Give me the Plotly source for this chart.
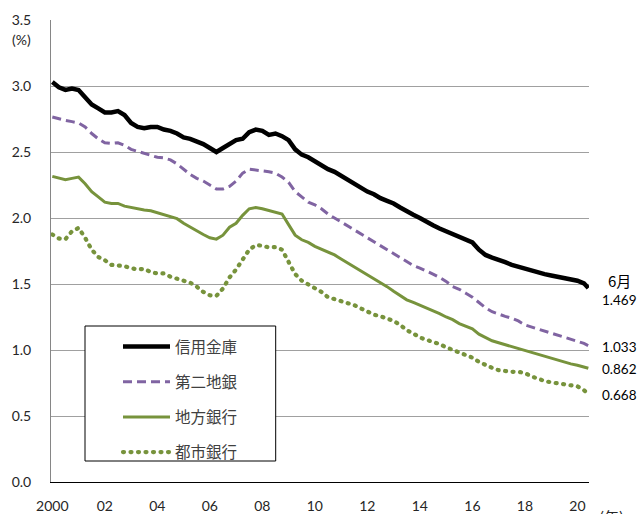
import plotly.graph_objects as go

# Month index from Jan 2000 (quarterly readings + final June 2020 point)
MONTHS = list(range(0, 244, 3)) + [245]

SHINKIN = [3.03, 2.99, 2.97, 2.98, 2.97, 2.92, 2.86, 2.83, 2.80, 2.80, 2.81, 2.78,
           2.72, 2.69, 2.68, 2.69, 2.69, 2.67, 2.66, 2.64, 2.61, 2.60, 2.58, 2.56,
           2.53, 2.50, 2.53, 2.56, 2.59, 2.60, 2.65, 2.67, 2.66, 2.63, 2.64, 2.62,
           2.59, 2.52, 2.48, 2.46, 2.43, 2.40, 2.37, 2.35, 2.32, 2.29, 2.26, 2.23,
           2.20, 2.18, 2.15, 2.13, 2.11, 2.08, 2.05, 2.025, 2.00, 1.97, 1.945, 1.92,
           1.90, 1.88, 1.86, 1.835, 1.815, 1.76, 1.72, 1.70, 1.685, 1.665, 1.645, 1.63,
           1.615, 1.60, 1.59, 1.575, 1.565, 1.555, 1.545, 1.535, 1.525, 1.505,
           1.469]

DAINI = [2.765, 2.75, 2.74, 2.73, 2.72, 2.69, 2.64, 2.60, 2.57, 2.565, 2.57, 2.55,
         2.52, 2.505, 2.49, 2.47, 2.46, 2.455, 2.44, 2.41, 2.37, 2.33, 2.30, 2.28,
         2.25, 2.22, 2.22, 2.24, 2.28, 2.34, 2.37, 2.365, 2.36, 2.35, 2.34, 2.31,
         2.27, 2.20, 2.16, 2.12, 2.10, 2.07, 2.03, 2.00, 1.97, 1.94, 1.91, 1.88,
         1.85, 1.82, 1.79, 1.76, 1.73, 1.70, 1.67, 1.64, 1.62, 1.60, 1.575, 1.55,
         1.52, 1.48, 1.46, 1.43, 1.40, 1.36, 1.32, 1.29, 1.27, 1.255, 1.24, 1.22,
         1.19, 1.175, 1.155, 1.14, 1.125, 1.11, 1.10, 1.085, 1.07, 1.05,
         1.033]

CHIHO = [2.315, 2.30, 2.29, 2.30, 2.31, 2.26, 2.20, 2.16, 2.12, 2.11, 2.11, 2.09,
         2.08, 2.065, 2.06, 2.055, 2.04, 2.02, 2.005, 1.995, 1.96, 1.93, 1.90, 1.875,
         1.85, 1.84, 1.87, 1.93, 1.96, 2.02, 2.07, 2.08, 2.07, 2.055, 2.045, 2.03,
         1.95, 1.87, 1.835, 1.815, 1.785, 1.765, 1.74, 1.72, 1.69, 1.66, 1.63, 1.60,
         1.57, 1.545, 1.515, 1.48, 1.445, 1.41, 1.38, 1.36, 1.34, 1.32, 1.30, 1.275,
         1.25, 1.23, 1.20, 1.18, 1.16, 1.12, 1.095, 1.07, 1.055, 1.04, 1.025, 1.01,
         0.995, 0.98, 0.965, 0.95, 0.935, 0.92, 0.905, 0.895, 0.885, 0.87,
         0.862]

TOSHI = [1.875, 1.845, 1.84, 1.90, 1.925, 1.85, 1.76, 1.705, 1.68, 1.645, 1.64, 1.635,
         1.62, 1.61, 1.615, 1.59, 1.58, 1.58, 1.555, 1.54, 1.525, 1.51, 1.48, 1.44,
         1.415, 1.41, 1.466, 1.55, 1.61, 1.69, 1.76, 1.795, 1.79, 1.777, 1.78, 1.76,
         1.66, 1.575, 1.525, 1.495, 1.465, 1.44, 1.40, 1.385, 1.37, 1.355, 1.34, 1.315,
         1.288, 1.268, 1.255, 1.24, 1.22, 1.19, 1.15, 1.125, 1.095, 1.077, 1.065, 1.045,
         1.02, 1.00, 0.978, 0.963, 0.942, 0.91, 0.885, 0.865, 0.847, 0.838, 0.835, 0.835,
         0.825, 0.80, 0.78, 0.765, 0.755, 0.748, 0.744, 0.737, 0.725, 0.695,
         0.668]

SERIES_NAMES = ["信用金庫", "第二地銀", "地方銀行", "都市銀行"]
TICK_MONTHS = list(range(0, 241, 24))
TICK_TEXT = ["2000", "02", "04", "06", "08", "10", "12", "14", "16", "18", "20"]
Y_TICKS = [0, 0.5, 1.0, 1.5, 2.0, 2.5, 3.0, 3.5]

JP = "Noto Sans CJK JP"
NUM = "Lato"

styles = [
    dict(color="#000000", width=4.5, dash="solid"),
    dict(color="#8064A2", width=3, dash="9px,5px"),
    dict(color="#77933C", width=3, dash="solid"),
    dict(color="#77933C", width=4.2, dash="1px,6.5px"),
]

fig = go.Figure()
for name, vals, st in zip(SERIES_NAMES, [SHINKIN, DAINI, CHIHO, TOSHI], styles):
    fig.add_trace(go.Scatter(x=MONTHS, y=vals, mode="lines", name=name,
                             legendgroup=name, line=st))

W, H = 638, 514
ml, mr, mt, mb = 51, 49, 20, 32
pw, ph = W - ml - mr, H - mt - mb

def px(xp):
    return (xp - ml) / pw

def py(yp):
    return (H - mb - yp) / ph

fig.update_layout(
    width=W, height=H,
    margin=dict(l=ml, r=mr, t=mt, b=mb, pad=0),
    plot_bgcolor="white", paper_bgcolor="white",
    showlegend=True,
    legend=dict(x=px(118), y=py(330), xanchor="left", yanchor="top",
                bgcolor="rgba(0,0,0,0)", borderwidth=0,
                font=dict(family=JP, size=15.5, color="#404040"),
                traceorder="grouped", tracegroupgap=12, itemwidth=47),
    xaxis=dict(range=[-0.6, 245.3], tickvals=TICK_MONTHS, ticktext=TICK_TEXT,
               showgrid=False, zeroline=False, showline=True, linecolor="#000000",
               linewidth=1, ticks="", tickfont=dict(family=NUM, size=14, color="#262626"),
               ticklabelstandoff=11, automargin=False),
    yaxis=dict(range=[0, 3.5], tickvals=Y_TICKS, tickformat=".1f",
               showgrid=True, gridcolor="#A0A0A0", gridwidth=1, zeroline=False,
               showline=True, linecolor="#868686", linewidth=1, ticks="",
               tickfont=dict(family=NUM, size=14, color="#262626"),
               ticklabelstandoff=16, automargin=False),
    shapes=[dict(type="rect", xref="paper", yref="paper",
                 x0=px(85), x1=px(275.7), y0=py(461), y1=py(326),
                 line=dict(color="#000000", width=1), fillcolor="white", layer="above")],
)

ann = [
    dict(text="(%)", x=px(21), y=py(40), xanchor="center", yanchor="middle",
         font=dict(family=NUM, size=14, color="#262626")),
    dict(text="(年)", x=px(597), y=py(504), xanchor="left", yanchor="top",
         font=dict(family=JP, size=15, color="#262626")),
    dict(text="6月", x=px(606), y=py(280), xanchor="left", yanchor="middle",
         font=dict(family=JP, size=15, color="#000000")),
]
label_y = [300, 347, 369, 395]
for vals, yy in zip([SHINKIN, DAINI, CHIHO, TOSHI], label_y):
    ann.append(dict(text=f"{vals[-1]:.3f}", x=px(600), y=py(yy), xanchor="left",
                    yanchor="middle", font=dict(family=NUM, size=13.5, color="#000000")))
for a in ann:
    a.update(xref="paper", yref="paper", showarrow=False)
fig.update_layout(annotations=ann)

POST = """
document.body.style.margin = '0';
document.body.style.padding = '0';
function roundDots() {
  document.querySelectorAll('path.js-line').forEach(function (p) {
    var d = p.style.strokeDasharray || '';
    if (d.indexOf('1px') === 0) { p.style.strokeLinecap = 'round'; }
  });
}
roundDots();
setTimeout(roundDots, 50);
setTimeout(roundDots, 300);
"""

fig.write_html("out.html", post_script=POST, config={"displayModeBar": False})
